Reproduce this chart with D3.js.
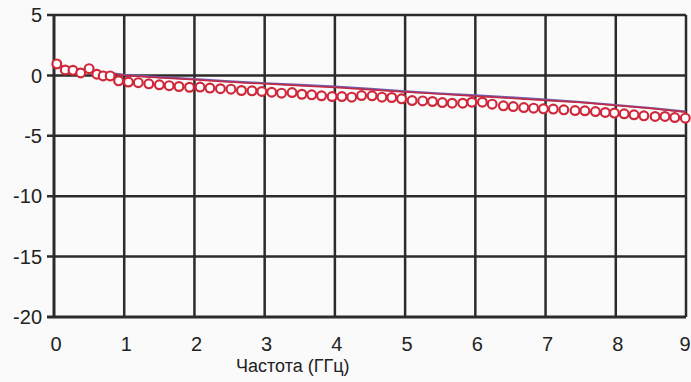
<!DOCTYPE html>
<head>
  <meta charset="utf-8">
  <script src="https://d3js.org/d3.v7.min.js"></script>
  <style>
    body { margin:0; background:#fafafa; }
    text { font-family: "Liberation Sans", Arial, sans-serif; fill:#222; }
  </style>
</head>
<body>
<script>
  // data
  var xTicks = [0, 1, 2, 3, 4, 5, 6, 7, 8, 9];
  var yTicks = [5, 0, -5, -10, -15, -20];
  var xLabel = "Частота (ГГц)";

  // measured points (circles)
  var measFreq = [0.04,0.16,0.27,0.38,0.50,0.61,0.70,0.80,0.92,1.06,1.20,1.35,1.50,1.64,1.78,1.93,2.08,2.22,2.37,2.52,
    2.67,2.82,2.96,3.10,3.24,3.39,3.53,3.67,3.81,3.96,4.10,4.24,4.38,4.53,4.67,4.81,4.95,5.10,5.25,5.39,5.53,5.67,5.82,
    5.95,6.10,6.24,6.40,6.54,6.69,6.83,6.97,7.11,7.26,7.42,7.56,7.71,7.85,7.98,8.12,8.26,8.40,8.56,8.70,8.84,8.99];
  var measVal = [0.95,0.45,0.42,0.2,0.56,0.1,-0.04,-0.04,-0.45,-0.55,-0.6,-0.7,-0.78,-0.85,-0.92,-0.98,-0.97,-1.05,-1.1,-1.14,
    -1.25,-1.28,-1.33,-1.39,-1.47,-1.42,-1.56,-1.61,-1.69,-1.75,-1.75,-1.8,-1.67,-1.69,-1.8,-1.83,-1.94,-2.08,-2.11,-2.16,-2.25,-2.3,-2.3,
    -2.22,-2.22,-2.38,-2.52,-2.58,-2.66,-2.71,-2.77,-2.79,-2.85,-2.91,-2.93,-2.99,-3.07,-3.12,-3.18,-3.26,-3.35,-3.4,-3.4,-3.49,-3.54];

  // simulated curves
  var simFreq = [0,0.5,1,1.5,2,2.5,3,3.5,4,4.5,5,5.5,6,6.5,7,7.5,8,8.5,9];
  var simPurple = [0.75,0.4,0.05,-0.15,-0.3,-0.5,-0.65,-0.78,-0.92,-1.12,-1.32,-1.5,-1.65,-1.82,-2.0,-2.2,-2.45,-2.7,-3.0];
  var simRed = [0.9,0.35,0.0,-0.2,-0.35,-0.55,-0.7,-0.85,-1.0,-1.18,-1.38,-1.55,-1.72,-1.9,-2.08,-2.25,-2.5,-2.75,-3.05];

  var margin = {top: 15, right: 5, bottom: 65, left: 54},
      width = 691 - margin.left - margin.right,
      height = 382 - margin.top - margin.bottom;

  var svg = d3.select("body").append("svg")
    .attr("width", 691)
    .attr("height", 382)
    .append("g")
    .attr("transform", "translate(" + margin.left + "," + margin.top + ")");

  var x = d3.scaleLinear().domain([0, 9]).range([0, width]);
  var y = d3.scaleLinear().domain([-20, 5]).range([height, 0]);

  // grid
  svg.selectAll(".vgrid").data(xTicks.slice(1)).enter()
    .append("line")
    .attr("x1", function(d) { return x(d); })
    .attr("x2", function(d) { return x(d); })
    .attr("y1", 0).attr("y2", height)
    .attr("stroke", "#2b2b2b")
    .attr("stroke-width", 2.5);

  svg.selectAll(".hgrid").data(yTicks.slice(0, -1)).enter()
    .append("line")
    .attr("x1", -7).attr("x2", width)
    .attr("y1", function(d) { return y(d); })
    .attr("y2", function(d) { return y(d); })
    .attr("stroke", "#2b2b2b")
    .attr("stroke-width", 2.5);

  // axes lines
  svg.append("line")
    .attr("x1", 0).attr("x2", 0).attr("y1", 0).attr("y2", height)
    .attr("stroke", "#2b2b2b").attr("stroke-width", 3);
  svg.append("line")
    .attr("x1", -7).attr("x2", width).attr("y1", height).attr("y2", height)
    .attr("stroke", "#2b2b2b").attr("stroke-width", 3);

  // tick labels
  svg.selectAll(".ylab").data(yTicks).enter()
    .append("text")
    .attr("x", -12)
    .attr("y", function(d) { return y(d); })
    .attr("dy", "0.36em")
    .style("text-anchor", "end")
    .style("font-size", "20px")
    .text(function(d) { return d; });

  svg.selectAll(".xlab").data(xTicks).enter()
    .append("text")
    .attr("x", function(d) { return Math.min(x(d) + 2, width - 1); })
    .attr("y", height + 27)
    .attr("dy", "0.36em")
    .style("text-anchor", "middle")
    .style("font-size", "20px")
    .text(function(d) { return d; });

  svg.append("text")
    .attr("x", x(3.4))
    .attr("y", height + 49)
    .attr("dy", "0.36em")
    .style("text-anchor", "middle")
    .style("font-size", "18px")
    .text(xLabel);

  var line = d3.line()
    .x(function(d) { return x(d[0]); })
    .y(function(d) { return y(d[1]); });

  svg.append("path")
    .datum(d3.zip(simFreq, simPurple))
    .attr("d", line)
    .attr("fill", "none")
    .attr("stroke", "#7657a8")
    .attr("stroke-width", 2.2);

  svg.append("path")
    .datum(d3.zip(simFreq, simRed))
    .attr("d", line)
    .attr("fill", "none")
    .attr("stroke", "#c4283e")
    .attr("stroke-width", 1.5);

  svg.selectAll(".meas").data(d3.zip(measFreq, measVal)).enter()
    .append("circle")
    .attr("cx", function(d) { return x(d[0]); })
    .attr("cy", function(d) { return y(d[1]); })
    .attr("r", 4.4)
    .attr("fill", "#fff")
    .attr("stroke", "#d0283a")
    .attr("stroke-width", 2.2);
</script>
</body>
